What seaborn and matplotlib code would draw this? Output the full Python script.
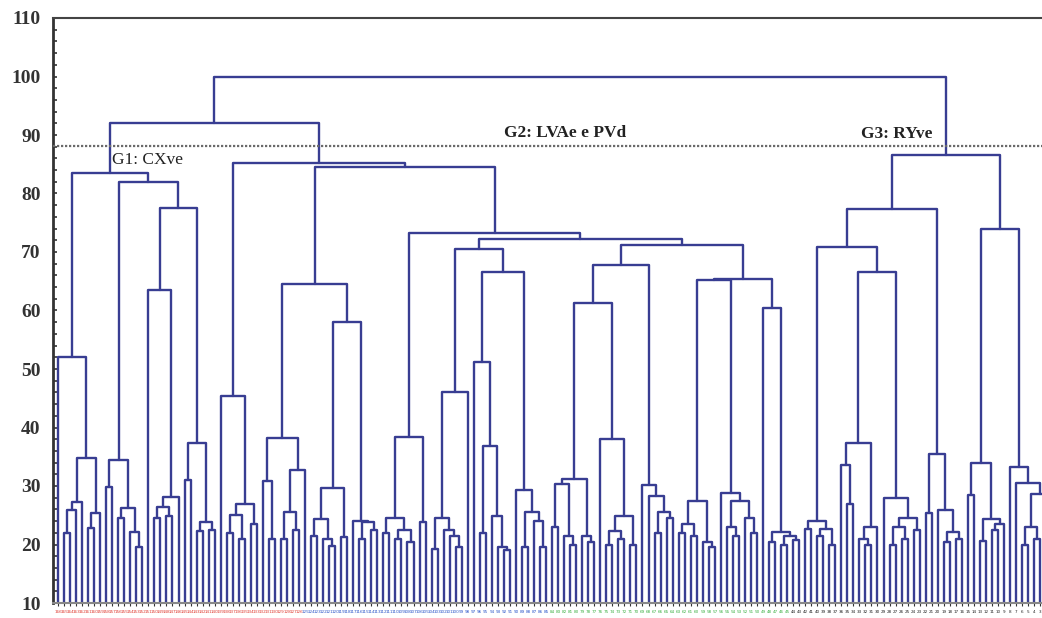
import pandas as pd
import seaborn as sns
import matplotlib.pyplot as plt
from matplotlib.ticker import MultipleLocator

# Dendrogram tree: (merge height, left, right); L marks a leaf
L = 0
BASE = 10

# G1: CXve
g1_a = (52.0, L, (34.8, (27.3, (25.9, (22.0, L, L), L), L), (25.4, (22.8, L, L), L)))
g1_b1 = (34.5, (29.8, L, L), (26.2, (24.5, L, L), (22.2, L, (19.6, L, L))))
g1_b21 = (63.5, L, (28.1, (26.4, (24.5, L, L), (24.8, L, L)), L))
g1_b22 = (37.3, (31.0, L, L), (23.8, (22.3, L, L), (22.5, L, L)))

# G2: LVAe e PVd
g2_c1 = (45.4, L, (26.9, (25.0, (22.0, L, L), (21.0, L, L)), (23.5, L, L)))
g2_c211 = (38.2, (30.9, L, (21.0, L, L)), (32.7, (25.5, (21.0, L, L), (22.5, L, L)), L))
g2_c2121 = (29.6, (24.4, (21.5, L, L), (21.0, L, (19.8, L, L))), (21.3, L, L))
g2_c2122 = (24.0, L, (23.9, (21.0, L, L), (22.5, L, L)))
g2_c221 = (38.4, (24.5, (22.0, L, L), (22.5, (21.0, L, L), (20.5, L, L))), (23.8, L, L))
g2_46 = (46.1, (24.5, (19.3, L, L), (22.5, L, (21.5, L, (19.5, L, L)))), L)
g2_51 = (51.2, L, (36.8, (22.0, L, L), (24.8, L, (19.6, L, (19.0, L, L)))))
g2_29 = (29.3, L, (25.5, (19.5, L, L), (24.0, L, (19.5, L, L))))
g2_31 = (31.2, (30.3, (23.0, L, L), (21.5, L, (20.0, L, L))), (21.5, L, (20.5, L, L)))
g2_38 = (38.0, L, (24.9, (22.3, (20.0, L, L), (21.0, L, L)), (20.0, L, L)))
g2_30 = (30.2, L, (28.3, L, (25.5, (22.0, L, L), (24.5, L, L))))
g2_27 = (27.4, (23.5, (22.0, L, L), (21.5, L, L)), (20.5, L, (19.5, L, L)))
g2_28 = (28.8, L, (27.5, (23.0, L, (21.5, L, L)), (24.5, L, (22.0, L, L))))
g2_60 = (60.4, L, (22.2, (20.5, L, L), (21.5, (20.0, L, L), (20.8, L, L))))

# G3: RYve
g3_24 = (24.1, (22.7, L, L), (22.7, (21.5, L, L), (20.0, L, L)))
g3_37 = (37.3, (33.6, L, (27.0, L, L)), (23.0, (21.0, L, (20.0, L, L)), L))
g3_28 = (28.0, L, (24.5, (23.0, (20.0, L, L), (21.0, L, L)), (22.5, L, L)))
g3_35 = (35.5, (25.4, L, L), (25.9, L, (22.1, (20.5, L, L), (21.0, L, L))))
g3_34 = (34.0, (28.5, L, L), (24.3, (20.6, L, L), (23.5, (22.5, L, L), L)))
g3_33 = (33.2, L, (30.5, L, (28.7, (23.0, (20.0, L, L), (21.0, L, L)), (22.0, L, L))))

g1 = (83.5, g1_a, (82.0, g1_b1, (77.5, g1_b21, g1_b22)))
g2 = (85.2, g2_c1,
      (84.6, (64.5, g2_c211, (58.0, g2_c2121, g2_c2122)),
       (73.3, g2_c221,
        (72.2, (70.5, g2_46, (66.6, g2_51, g2_29)),
         (71.2, (67.8, (61.3, g2_31, g2_38), g2_30),
          (65.4, (65.2, g2_27, g2_28), g2_60))))))
g3 = (86.6, (77.3, (70.8, g3_24, (66.6, g3_37, g3_28)), g3_35), (74.0, g3_34, g3_33))
tree = (100.0, (92.0, g1, g2), g3)

cut_height = 88.1

red_labels = ("166 165 164 163 162 161 160 159 158 157 156 155 154 153 152 151 150 149 148 147 "
              "146 145 144 143 142 141 140 139 138 137 136 135 134 133 132 131 130 129 128 127 126").split()
blue_labels = ("125 124 123 122 121 120 119 118 117 116 115 114 113 112 111 110 109 108 107 106 "
               "105 104 103 102 101 100 99 98 97 96 95 94 93 92 91 90 89 88 87 86 85").split()
green_labels = ("84 83 82 81 80 79 78 77 76 75 74 73 72 71 70 69 68 67 66 65 "
                "64 63 62 61 60 59 58 57 56 55 54 53 52 51 50 49 48 47 46 45").split()
black_labels = ("44 43 42 41 40 39 38 37 36 35 34 33 32 31 30 29 28 27 26 25 24 23 "
                "22 21 20 19 18 17 16 15 14 13 12 11 10 9 8 7 6 5 4 3 2 1").split()


# walk the tree and collect the U-shaped links
def walk(node, rows, counter):
    if node == L:
        x = counter[0]
        counter[0] += 1
        return x, BASE
    h, a, b = node
    xa, ha = walk(a, rows, counter)
    xb, hb = walk(b, rows, counter)
    seg = len(rows) // 4
    for px, py in [(xa, ha), (xa, h), (xb, h), (xb, hb)]:
        rows.append({"seg": seg, "x": px, "y": py})
    return (xa + xb) / 2, h


rows = []
counter = [0]
walk(tree, rows, counter)
n_leaves = counter[0]
links = pd.DataFrame(rows)

sns.set_style("white")
fig = plt.figure(figsize=(10.42, 6.18), dpi=100)
ax = fig.add_axes([53 / 1042, 15 / 618, 989 / 1042, 585 / 618])

sns.lineplot(data=links, x="x", y="y", units="seg", estimator=None, sort=False,
             color="#383d92", linewidth=1.7, ax=ax)

ax.axhline(cut_height, color="#6a6a6a", ls=(0, (1, 0.8)), lw=1.6, zorder=3)

serif = ["Liberation Serif", "DejaVu Serif"]
ax.text(9.0, 85.7, "G1: CXve", family=serif, fontsize=12.5, color="#222222", va="center")
ax.text(74.0, 90.4, "G2: LVAe e PVd", family=serif, fontsize=12.5, fontweight="bold",
        color="#222222", va="center")
ax.text(133.2, 90.2, "G3: RYve", family=serif, fontsize=12.5, fontweight="bold",
        color="#222222", va="center")

ax.yaxis.set_major_locator(MultipleLocator(10))
ax.yaxis.set_minor_locator(MultipleLocator(2))
ax.tick_params(axis="y", which="both", direction="in", left=True, length=3, width=1.2,
               color="#333333", labelsize=14, pad=9)

labels = red_labels + blue_labels + green_labels + black_labels
colors = (["#e03c32"] * len(red_labels) + ["#2b55c8"] * len(blue_labels)
          + ["#3cb043"] * len(green_labels) + ["#222222"] * len(black_labels))
ax.set_xticks(range(n_leaves))
ax.set_xticklabels(labels[:n_leaves], fontsize=3, family="DejaVu Sans")
for lab, c in zip(ax.get_xticklabels(), colors):
    lab.set_color(c)
ax.tick_params(axis="x", bottom=True, length=2, width=0.8, color="#333333", pad=3)
ax.set_xlabel("")
ax.set_ylabel("")

# limits last, so the leaf ticks do not widen the view
ax.set_ylim(10, 110)
ax.set_xlim(-0.83, 163.3)
for lab in ax.get_yticklabels():
    lab.set_family(serif)
    lab.set_fontweight("bold")
    lab.set_color("#333333")

for side in ["left", "top", "bottom"]:
    ax.spines[side].set_visible(True)
ax.spines["left"].set_color("#333333")
ax.spines["left"].set_linewidth(2)
ax.spines["top"].set_color("#444444")
ax.spines["top"].set_linewidth(1.5)
ax.spines["bottom"].set_color("#888888")
ax.spines["bottom"].set_linewidth(1.5)
ax.spines["right"].set_visible(False)

fig.savefig("out.png", dpi=100)
